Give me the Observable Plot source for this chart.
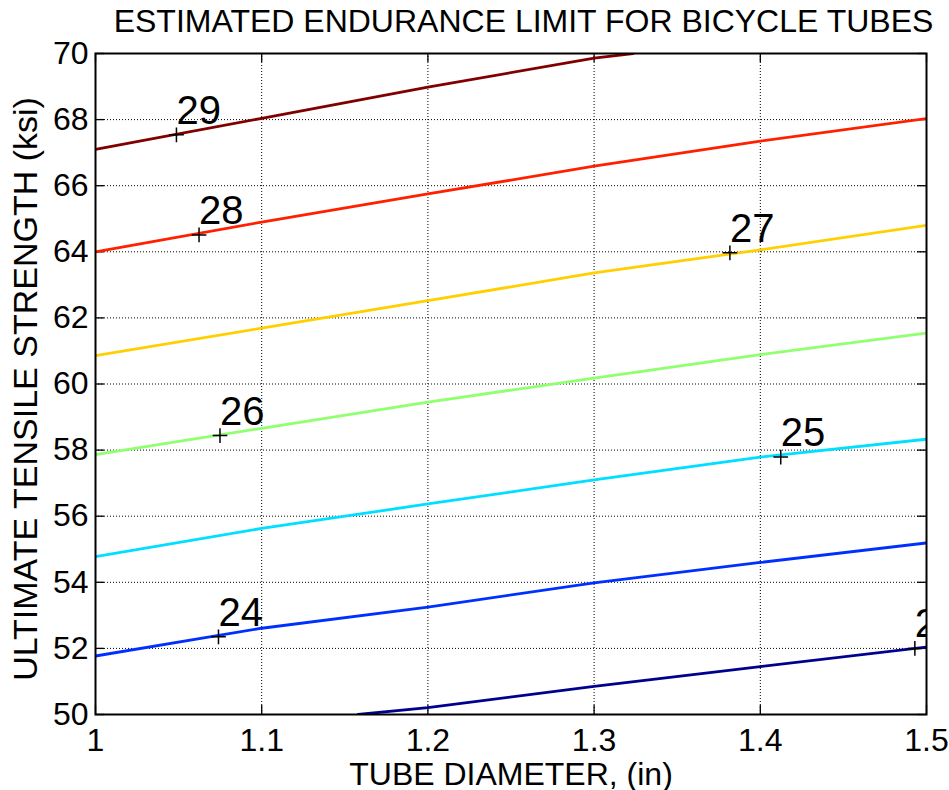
<!DOCTYPE html>
<html>
<head>
<meta charset="utf-8">
<script src="https://cdn.jsdelivr.net/npm/d3@7"></script>
<script src="https://cdn.jsdelivr.net/npm/@observablehq/plot@0.6"></script>
<style>
  html, body { margin: 0; padding: 0; background: #fff; }
  #wrap { position: relative; width: 949px; height: 790px; overflow: hidden; font-family: "Liberation Sans", Arial, sans-serif; }
  #title { position: absolute; top: 5px; left: 0; width: 1047px; text-align: center; font-size: 32px; line-height: 32px; color: #000; white-space: nowrap; z-index: 2; }
  #chart { position: absolute; top: 0; left: 0; z-index: 1; }
</style>
</head>
<body>
<div id="wrap">
  <div id="title"></div>
  <div id="chart"></div>
</div>
<script>
// ---- data ----
const levels = [23, 24, 25, 26, 27, 28, 29];
const levelColors = ["#00008f", "#0030ff", "#00dfff", "#90ff70", "#ffd000", "#ff2000", "#800000"];

const diam = [1.0, 1.1, 1.2, 1.3, 1.4, 1.5];
const uts24 = [51.77, 52.61, 53.25, 53.98, 54.60, 55.19];
const uts25 = [54.78, 55.63, 56.37, 57.10, 57.79, 58.33];
const uts26 = [57.86, 58.66, 59.45, 60.18, 60.89, 61.54];
const uts27 = [60.86, 61.69, 62.52, 63.36, 64.06, 64.80];
const uts28 = [64.00, 64.90, 65.75, 66.59, 67.35, 68.03];
const diam29 = [1.0, 1.1, 1.2, 1.3, 1.3234];
const uts29 = [67.10, 68.04, 68.98, 69.86, 70.00];
const diam23 = [1.158, 1.2, 1.3, 1.4, 1.5];
const uts23 = [50.00, 50.21, 50.85, 51.45, 52.04];

const labelLevel = [29, 28, 27, 26, 25, 24, 23];
const labelDiam = [1.0487, 1.0623, 1.3817, 1.0749, 1.4123, 1.0740, 1.4930];
const labelUts = [67.54, 64.51, 63.97, 58.44, 57.79, 52.35, 52.00];

const xTicks = [1.0, 1.1, 1.2, 1.3, 1.4, 1.5];
const xTickLabels = ["1", "1.1", "1.2", "1.3", "1.4", "1.5"];
const yTicks = [50, 52, 54, 56, 58, 60, 62, 64, 66, 68, 70];
const yTickLabels = ["50", "52", "54", "56", "58", "60", "62", "64", "66", "68", "70"];

const titleText = "ESTIMATED ENDURANCE LIMIT FOR BICYCLE TUBES";
const xLabel = "TUBE DIAMETER, (in)";
const yLabel = "ULTIMATE TENSILE STRENGTH (ksi)";

// ---- build table ----
const series = [
  [23, diam23, uts23], [24, diam, uts24], [25, diam, uts25], [26, diam, uts26],
  [27, diam, uts27], [28, diam, uts28], [29, diam29, uts29]
];
const lineData = series.flatMap(([lev, xs, ys]) => xs.map((x, i) => ({level: lev, d: x, s: ys[i]})));
const labelData = labelLevel.map((lev, i) => ({level: lev, d: labelDiam[i], s: labelUts[i]}));

document.getElementById("title").textContent = titleText;

const W = 949, H = 790, mt = 53, mb = 76, ml = 95, mr = 23;
const ph = H - mt - mb, pw = W - ml - mr, tk = 9;
const font = "Liberation Sans, Arial, sans-serif";

const chart = Plot.plot({
  width: W, height: H,
  marginTop: mt, marginBottom: mb, marginLeft: ml, marginRight: mr,
  style: {fontFamily: font, background: "white", color: "black", overflow: "visible"},
  x: {domain: [1, 1.5]},
  y: {domain: [50, 70]},
  color: {type: "ordinal", domain: levels, range: levelColors},
  marks: [
    Plot.gridX(xTicks, {stroke: "#000", strokeOpacity: 1, strokeWidth: 1, strokeDasharray: "1,2"}),
    Plot.gridY(yTicks, {stroke: "#000", strokeOpacity: 1, strokeWidth: 1, strokeDasharray: "1,2"}),
    Plot.tickX(xTicks, {x: d => d, insetTop: ph - tk, stroke: "#000", strokeWidth: 1.3}),
    Plot.tickX(xTicks, {x: d => d, insetBottom: ph - tk, stroke: "#000", strokeWidth: 1.3}),
    Plot.tickY(yTicks, {y: d => d, insetRight: pw - tk, stroke: "#000", strokeWidth: 1.3}),
    Plot.tickY(yTicks, {y: d => d, insetLeft: pw - tk, stroke: "#000", strokeWidth: 1.3}),
    Plot.line(lineData, {x: "d", y: "s", z: "level", stroke: "level", strokeWidth: 2.8, clip: true}),
    Plot.dot(labelData, {x: "d", y: "s", symbol: "plus", r: 4.8, stroke: "#000", strokeWidth: 1.5}),
    Plot.text(labelData, {x: "d", y: "s", text: d => String(d.level), fontSize: 40, textAnchor: "start", lineAnchor: "bottom", dy: -11, fill: "#000", clip: true}),
    Plot.frame({stroke: "#000", strokeWidth: 2}),
    Plot.axisX(xTicks, {anchor: "bottom", tickSize: 0, tickPadding: 14, fontSize: 32,
      tickFormat: d => xTickLabels[xTicks.indexOf(d)], label: xLabel, labelAnchor: "center", labelOffset: 70, labelArrow: "none"}),
    Plot.axisY(yTicks, {anchor: "left", tickSize: 0, tickPadding: 7, fontSize: 32,
      tickFormat: d => yTickLabels[yTicks.indexOf(d)], label: null}),
    Plot.text([yLabel], {frameAnchor: "left", text: d => d, rotate: -90, dx: -83, dy: 5, lineAnchor: "top", textAnchor: "middle", fontSize: 34, fill: "#000"})
  ]
});
document.getElementById("chart").appendChild(chart);
</script>
</body>
</html>
